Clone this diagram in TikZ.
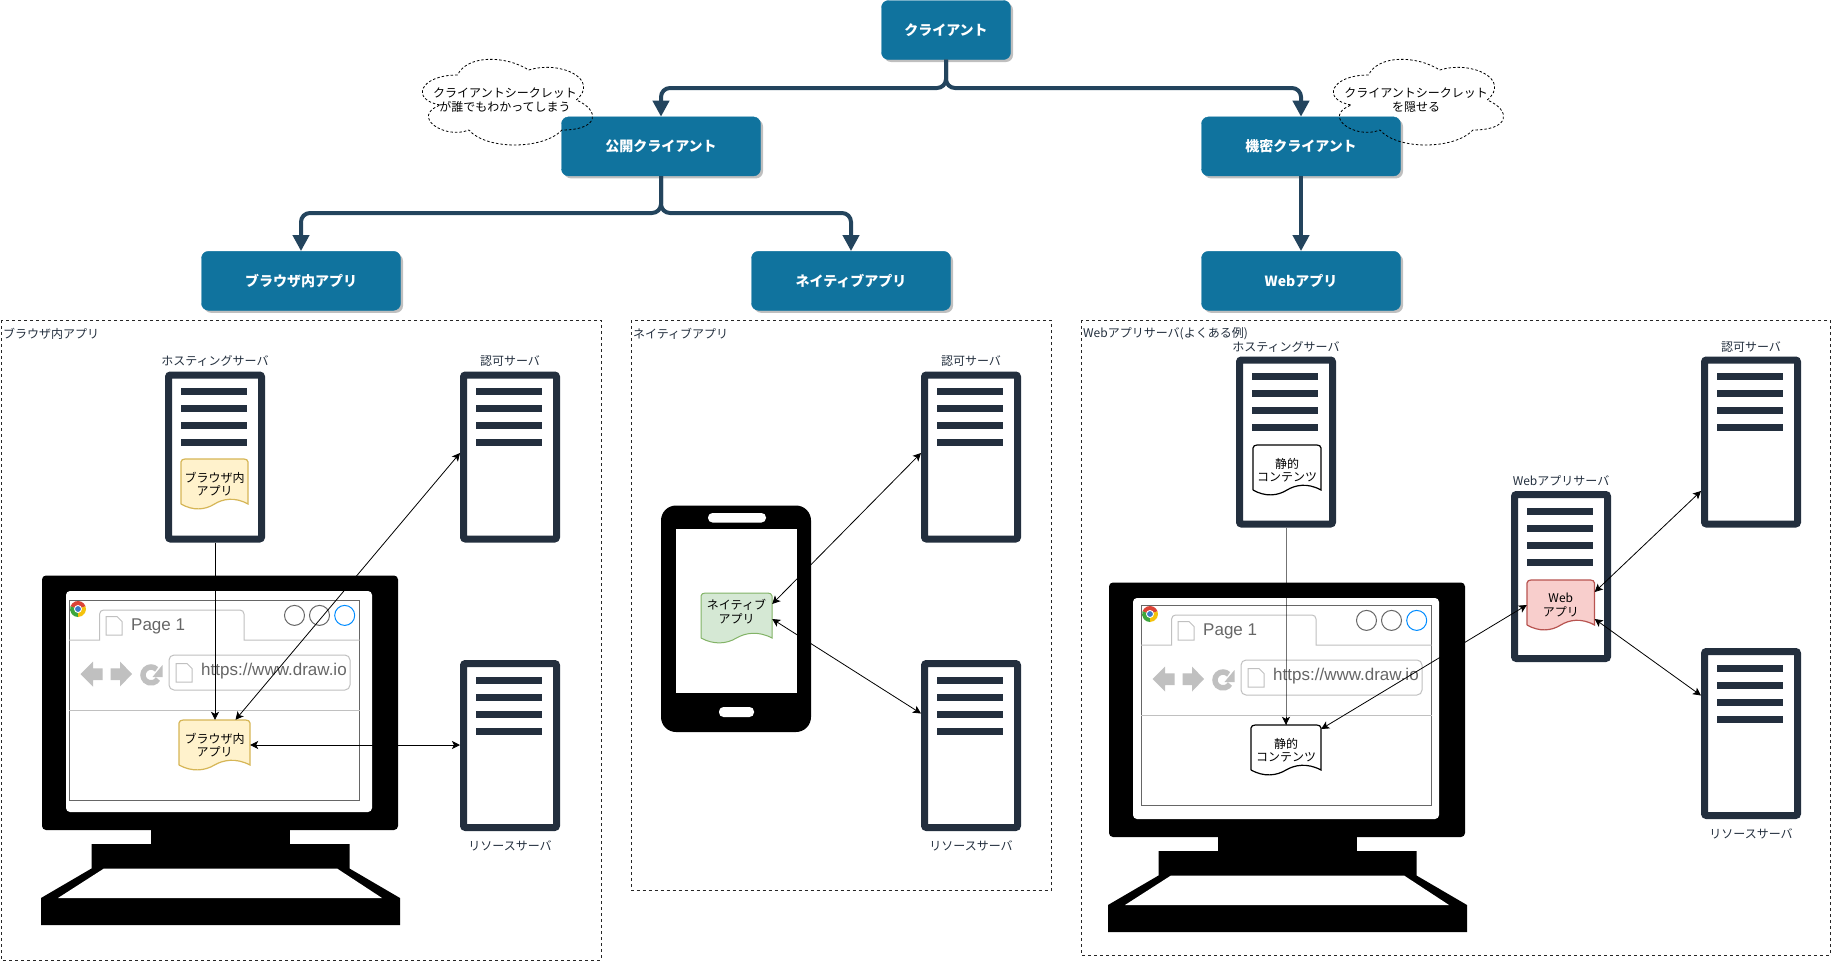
\documentclass[tikz,border=0pt]{standalone}
\usepackage{fontspec}
\usepackage{xcolor}
\usepackage{tikz}
\usetikzlibrary{arrows.meta, positioning, shadows}
\setmainfont{Noto Sans CJK JP}
\newfontfamily\latinfont{Liberation Sans}
\definecolor{treeblue}{HTML}{10739E}
\definecolor{treeline}{HTML}{23445D}
\definecolor{ink}{HTML}{232F3E}
\definecolor{chromegray}{HTML}{C0C0C0}
\definecolor{textgray}{HTML}{666666}
\definecolor{appyellow}{HTML}{FFF2CC}
\definecolor{appyellowline}{HTML}{D6B656}
\definecolor{appgreen}{HTML}{D5E8D4}
\definecolor{appgreenline}{HTML}{82B366}
\definecolor{apppink}{HTML}{F8CECC}
\definecolor{apppinkline}{HTML}{B85450}
\definecolor{logored}{HTML}{DB4437}
\definecolor{logogreen}{HTML}{3DA63D}
\definecolor{logoyellow}{HTML}{F4C20D}
\definecolor{logoblue}{HTML}{3B78C9}
\definecolor{logocircle}{HTML}{008CFF}

% wave-bottomed sheet: style, name, left, top, width, text
\newcommand{\docsheet}[6]{%
  \draw[#1, shift={(#3,#4)}, x=#5pt, y=-50pt] (0,.9) -- (0,.06) to[out=90,in=180] (.06,0) -- (.94,0)
    to[out=0,in=90] (1,.06) -- (1,.9) .. controls (.8,.75) and (.62,.8) .. (.5,.9)
    .. controls (.36,1.02) and (.18,1.04) .. (0,.9);
  \node[sheettext, minimum width=#5pt] (#2) at (#3+#5/2,#4+25) {#6};}

% dashed cloud outline: left, top of a 190 by 100 box
\newcommand{\cloudline}[2]{%
  \draw[cloudstroke, shift={(#1,#2)}, x=190pt, y=-100pt] (.25,.25) .. controls (.05,.25) and (0,.5) .. (.16,.55)
    .. controls (0,.66) and (.18,.9) .. (.31,.8) .. controls (.4,1) and (.7,1) .. (.8,.8)
    .. controls (1,.8) and (1,.6) .. (.875,.5) .. controls (1,.3) and (.8,.1) .. (.625,.2)
    .. controls (.5,.05) and (.3,.05) .. (.25,.25) -- cycle;}

% desktop monitor silhouette
\newcommand{\monitorshape}[2]{%
  \begin{scope}[shift={(#1,#2)}]
    \fill[black, rounded corners=4pt] (0,0) rectangle (356,254.5);
    \fill[white, rounded corners=4pt] (24,15.5) rectangle (330,236.5);
    \fill[black] (109,254) rectangle (248,269);
    \fill[black] (49.5,268.5) -- (307.5,268.5) -- (307.5,293) -- (358,322.5) -- (358,349.5) -- (-1,349.5) -- (-1,322.5) -- (49.5,293) -- cycle;
    \fill[white] (62,293) -- (295,293) -- (340,322.5) -- (16,322.5) -- cycle;
  \end{scope}}

% small page icon
\newcommand{\pageicon}[2]{%
  \draw[chromegray, line width=1pt, fill=white] (#1,#2) -- ++(11,0) -- ++(5,5) -- ++(0,13.5) -- ++(-16,0) -- cycle;}

% browser mockup, name prefix and top left corner
\newcommand{\browsershape}[3]{%
  \begin{scope}[shift={(#2,#3)}]
    \draw[textgray, line width=1pt] (0,0) rectangle (290.5,200);
    \draw[chromegray, line width=1pt] (0,40) -- (30.6,40) -- (30.6,14) to[out=90,in=180] (34.6,10) -- (171,10) to[out=0,in=90] (175,14) -- (175,40) -- (290.5,40);
    \draw[chromegray, line width=1pt] (0,110) -- (290.5,110);
    \fill[logored] (9,9) -- ++(-20:8) arc[start angle=-20, end angle=-160, radius=8] -- cycle;
    \fill[logogreen] (9,9) -- ++(-160:8) arc[start angle=-160, end angle=-270, radius=8] -- cycle;
    \fill[logoyellow] (9,9) -- ++(90:8) arc[start angle=90, end angle=-20, radius=8] -- cycle;
    \fill[white] (9,9) circle (4);
    \fill[logoblue] (9,9) circle (2.9);
    \pageicon{37}{16.5}
    \node[browsertext, anchor=west] (#1page) at (62,26) {Page 1};
    \draw[textgray, line width=1pt] (225.5,15.4) circle (10) (250.5,15.4) circle (10);
    \draw[logocircle, line width=1pt] (275.7,15.4) circle (10);
    \fill[chromegray] (11.5,74) -- (24,61.5) -- (24,68.3) -- (33.5,68.3) -- (33.5,80) -- (24,80) -- (24,86.5) -- cycle;
    \fill[chromegray] (63,74) -- (51,61.5) -- (51,68.3) -- (41.5,68.3) -- (41.5,80) -- (51,80) -- (51,86.5) -- cycle;
    \draw[chromegray, line width=5.5pt] (82,75) ++(-45:8) arc[start angle=-45, delta angle=-285, radius=8];
    \fill[chromegray] (93.5,65) -- (93.5,77) -- (83.5,77) -- cycle;
    \draw[chromegray, line width=1pt, rounded corners=5pt] (100,55) rectangle (281,90);
    \pageicon{107}{63.5}
    \node[browsertext, anchor=west] (#1url) at (132,71.5) {https://www.draw.io};
  \end{scope}}

\begin{document}
\begin{tikzpicture}[
  x=1pt, y=-1pt,
  treebox/.style={fill=treeblue, draw=treeblue, rounded corners=7pt, minimum width=199pt, minimum height=59pt,
                  text=white, font=\fontsize{14}{16}\selectfont\bfseries,
                  drop shadow={shadow xshift=2.5pt, shadow yshift=-2.5pt, fill=black!25, opacity=1}},
  treearr/.style={-{Triangle[length=16pt, width=16pt]}, line width=4pt, color=treeline, rounded corners=9pt},
  panel/.style={draw=black!85, dash pattern=on 3pt off 3pt, line width=.8pt},
  paneltitle/.style={anchor=west, inner sep=1pt, font=\fontsize{12}{14}\selectfont, text=ink},
  server/.style={draw=ink, fill=white, line width=7pt, rounded corners=2pt, minimum width=93pt, minimum height=164pt,
    path picture={\foreach \n in {0,1,2,3}
      \fill[ink, sharp corners] ([shift={(12.5,{13+17*\n})}]path picture bounding box.north west) rectangle ++(66,7);}},
  srvlabel/.style={font=\fontsize{12}{14}\selectfont, text=ink, inner sep=0pt},
  sheettext/.style={inner sep=0pt, minimum height=50pt, align=center, font=\fontsize{12}{13.5}\selectfont},
  cloudstroke/.style={draw=black, dash pattern=on 2.5pt off 2pt, line width=.8pt},
  cloudtext/.style={inner sep=0pt, align=center, font=\fontsize{12}{13.5}\selectfont},
  browsertext/.style={inner sep=0pt, text=textgray, font=\latinfont\fontsize{17}{19}\selectfont},
  arr/.style={-{Stealth[length=8pt, width=8pt, inset=2pt]}, line width=.8pt},
  biarr/.style={{Stealth[length=8pt, width=8pt, inset=2pt]}-{Stealth[length=8pt, width=8pt, inset=2pt]}, line width=.8pt},
]
\useasboundingbox (0,0) rectangle (1831,961);

% panels
\draw[panel] (1,320) rectangle (601,960);
\draw[panel] (631,320) rectangle (1051,890.5);
\draw[panel] (1081,320) rectangle (1830,955);
\node[paneltitle] (browsertitle) at (2,334) {ブラウザ内アプリ};
\node[paneltitle] (nativetitle) at (632,334) {ネイティブアプリ};
\node[paneltitle] (webtitle) at (1082,334) {Webアプリサーバ(よくある例)};

% in-browser app
\monitorshape{42}{575.5}
\browsershape{lb}{69}{600}
\node[server, label={[srvlabel, label distance=5pt]above:ホスティングサーバ}] (hostsrv) at (215,457) {};
\node[server, label={[srvlabel, label distance=5pt]above:認可サーバ}] (authsrv) at (510,457) {};
\node[server, below=117.5pt of authsrv, label={[srvlabel, label distance=9pt]below:リソースサーバ}] (ressrv) {};
\docsheet{draw=appyellowline, fill=appyellow, line width=1.2pt}{hostapp}{181}{459}{67}{ブラウザ内\\アプリ}
\docsheet{draw=appyellowline, fill=appyellow, line width=1.2pt}{pageapp}{179}{720}{71}{ブラウザ内\\アプリ}
\draw[arr] (hostsrv) -- (hostsrv |- pageapp.north);
\draw[biarr] ([xshift=21pt]pageapp.north) -- ([yshift=4pt]authsrv.west);
\draw[biarr] (pageapp.east) -- (pageapp.east -| ressrv.west);

% native app
\fill[black, rounded corners=15pt] (661,505.5) rectangle (811,732);
\fill[white] (676,529) rectangle (797,693);
\fill[white, rounded corners=4.5pt] (708,513) rectangle (766,522.5);
\fill[white, rounded corners=4.5pt] (719,707) rectangle (754,717);
\node[server, label={[srvlabel, label distance=5pt]above:認可サーバ}] (nauthsrv) at (971,457) {};
\node[server, below=117.5pt of nauthsrv, label={[srvlabel, label distance=9pt]below:リソースサーバ}] (nressrv) {};
\docsheet{draw=appgreenline, fill=appgreen, line width=1pt, sharp corners}{nativeapp}{701}{593}{71}{ネイティブ\\アプリ\\~}
\draw[biarr] ([yshift=14pt]nativeapp.east) -- ([yshift=4pt]nauthsrv.west);
\draw[biarr] ([yshift=-1pt]nativeapp.east) -- ([yshift=32pt]nressrv.west);

% web app
\monitorshape{1109}{582.5}
\browsershape{rb}{1141}{605}
\node[server, label={[srvlabel, label distance=4pt]above:ホスティングサーバ}] (whostsrv) at (1286,442) {};
\node[server, label={[srvlabel, label distance=4pt]above:認可サーバ}] (wauthsrv) at (1751,442) {};
\node[server, below=120.5pt of wauthsrv, label={[srvlabel, label distance=9pt]below:リソースサーバ}] (wressrv) {};
\node[server, label={[srvlabel, label distance=5pt]above:Webアプリサーバ}] (appsrv) at (1561,576.5) {};
\docsheet{draw=black, fill=white, line width=1.2pt}{hoststatic}{1253}{445}{68}{静的\\コンテンツ}
\docsheet{draw=black, fill=white, line width=1.2pt}{pagestatic}{1251}{725}{70}{静的\\コンテンツ}
\docsheet{draw=apppinkline, fill=apppink, line width=1.2pt}{webapp}{1527}{580}{67.5}{Web\\アプリ}
\draw[opacity=.55, line width=1pt] (whostsrv) -- (whostsrv |- pagestatic.north);
\draw[arr] ([yshift=8pt]whostsrv |- pagestatic.north) -- (whostsrv |- pagestatic.north);
\draw[biarr] ([yshift=21pt]pagestatic.east) -- (webapp.west);
\draw[biarr] ([yshift=13pt]webapp.east) -- ([yshift=-49pt]wauthsrv.west);
\draw[biarr] ([yshift=-14pt]webapp.east) -- ([yshift=38pt]wressrv.west);

% client tree
\node[treebox, minimum width=129pt] (client) at (946,30) {クライアント};
\node[treebox, below=57pt of client, xshift=-285pt] (pubclient) {公開クライアント};
\node[treebox, below=57pt of client, xshift=355pt] (conclient) {機密クライアント};
\node[treebox, below=75pt of pubclient, xshift=-360pt] (spaapp) {ブラウザ内アプリ};
\node[treebox, below=75pt of pubclient, xshift=190pt] (mobileapp) {ネイティブアプリ};
\node[treebox, below=75pt of conclient] (srvapp) {Webアプリ};
\coordinate (forktop) at (946,88);
\coordinate (forkpub) at (661,213);
\draw[treearr] (client.south) -- (client.south |- forktop) -| (pubclient.north);
\draw[treearr] (client.south) -- (client.south |- forktop) -| (conclient.north);
\draw[treearr] (pubclient.south) -- (pubclient.south |- forkpub) -| (spaapp.north);
\draw[treearr] (pubclient.south) -- (pubclient.south |- forkpub) -| (mobileapp.north);
\draw[treearr] (conclient.south) -- (srvapp.north);

% secret notes
\cloudline{410}{50}
\node[cloudtext] (pubnote) at (505,100) {クライアントシークレット\\が誰でもわかってしまう};
\cloudline{1321}{50}
\node[cloudtext] (connote) at (1416,100) {クライアントシークレット\\を隠せる};
\end{tikzpicture}
\end{document}
